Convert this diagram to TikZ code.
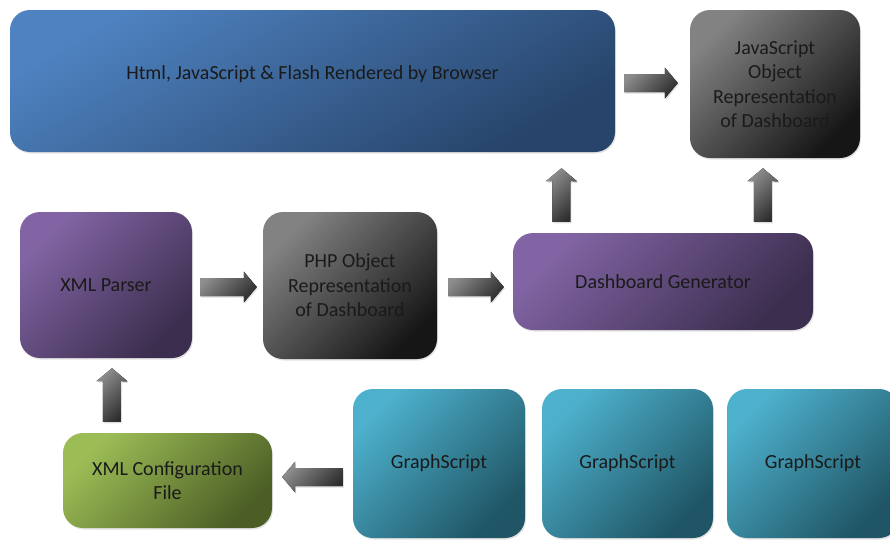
\documentclass[tikz,border=0pt]{standalone}
\usepackage{fontspec}
\setmainfont{Carlito}
\usetikzlibrary{calc,shadows}
\definecolor{blueL}{HTML}{4E82C0}
\definecolor{blueD}{HTML}{27446A}
\definecolor{grayL}{HTML}{828282}
\definecolor{grayD}{HTML}{161616}
\definecolor{purpL}{HTML}{8264A4}
\definecolor{purpD}{HTML}{3B2E4E}
\definecolor{tealL}{HTML}{4DB0CC}
\definecolor{tealD}{HTML}{1F5564}
\definecolor{greenL}{HTML}{9CBD56}
\definecolor{greenD}{HTML}{4C5E25}
\definecolor{arrL}{HTML}{8E8E8E}
\definecolor{arrD}{HTML}{2E2E2E}
\definecolor{txt}{HTML}{1A1A1A}
\newcommand{\blockarrow}[2]{%
  \coordinate (#1-h) at ($(#2)!13pt!(#1)$);
  \fill[barrow] ($(#1)!9pt!90:(#2)$) -- ($(#1-h)!9pt!90:(#2)$) -- ($(#1-h)!15.5pt!90:(#2)$)
    -- (#2) -- ($(#1-h)!15.5pt!-90:(#2)$) -- ($(#1-h)!9pt!-90:(#2)$) -- ($(#1)!9pt!-90:(#2)$) -- cycle;}
\begin{document}
\begin{tikzpicture}[x=1pt,y=-1pt,
  box/.style={rectangle, rounded corners=20pt, inner sep=0pt, align=center,
    font=\fontsize{20}{24.4}\selectfont, text=txt,
    drop shadow={opacity=0.22, shadow xshift=1pt, shadow yshift=-1.5pt}},
  bluebox/.style={box, top color=blueL, bottom color=blueD, shading angle=30},
  graybox/.style={box, top color=grayL, bottom color=grayD, shading angle=45},
  purpbox/.style={box, top color=purpL, bottom color=purpD, shading angle=45},
  tealbox/.style={box, top color=tealL, bottom color=tealD, shading angle=45},
  greenbox/.style={box, top color=greenL, bottom color=greenD, shading angle=45},
  barrow/.style={top color=arrL, bottom color=arrD, shading angle=45,
    drop shadow={opacity=0.25, shadow xshift=1pt, shadow yshift=-1.5pt}}]
\useasboundingbox (0,0) rectangle (890,539);
\clip (0,0) rectangle (890,539);

\node[bluebox, minimum width=605pt, minimum height=142pt, text height=14pt, text depth=18pt]
  (browser) at (312.5,81) {Html, JavaScript \& Flash Rendered by Browser};
\node[graybox, minimum width=170pt, minimum height=148pt] (jsobj) at (775,84)
  {JavaScript\\Object\\Representation\\of Dashboard};
\node[purpbox, minimum width=172pt, minimum height=146pt] (parser) at (106,285) {XML Parser};
\node[graybox, minimum width=174pt, minimum height=147pt] (phpobj) at (350,285.5)
  {PHP Object\\Representation\\of Dashboard};
\node[purpbox, minimum width=300pt, minimum height=97pt] (gen) at (663,281.5) {Dashboard Generator};
\node[greenbox, minimum width=209pt, minimum height=95pt] (config) at (167.5,480.5)
  {XML Configuration\\File};
\node[tealbox, minimum width=172pt, minimum height=149pt] (gs1) at (439,463.5) {GraphScript};
\node[tealbox, minimum width=171pt, minimum height=149pt] (gs2) at (627.5,463.5) {GraphScript};
\node[tealbox, minimum width=172pt, minimum height=149pt] (gs3) at (813,463.5) {GraphScript};

% block arrows (connector ends placed in the gaps between the named boxes)
\coordinate (a1s) at ($(browser.east)+(9,2)$);
\coordinate (a1e) at ($(jsobj.west)+(-12,-1)$);
\blockarrow{a1s}{a1e}
\coordinate (a2s) at ($(gen.north west)+(48.5,-11)$);
\coordinate (a2e) at ($(browser.south)+(249,16)$);
\blockarrow{a2s}{a2e}
\coordinate (a3s) at ($(gen.north west)+(250,-11)$);
\coordinate (a3e) at ($(jsobj.south)+(-12,10)$);
\blockarrow{a3s}{a3e}
\coordinate (a4s) at ($(parser.east)+(8,2)$);
\coordinate (a4e) at ($(phpobj.west)+(-6,1.5)$);
\blockarrow{a4s}{a4e}
\coordinate (a5s) at ($(phpobj.east)+(11,1.5)$);
\coordinate (a5e) at ($(gen.west)+(-9,5.5)$);
\blockarrow{a5s}{a5e}
\coordinate (a6s) at ($(config.north west)+(49,-11)$);
\coordinate (a6e) at ($(parser.south)+(6,10)$);
\blockarrow{a6s}{a6e}
\coordinate (a7s) at ($(gs1.west)+(-10,13.5)$);
\coordinate (a7e) at ($(config.east)+(10,-3.5)$);
\blockarrow{a7s}{a7e}
\end{tikzpicture}
\end{document}
